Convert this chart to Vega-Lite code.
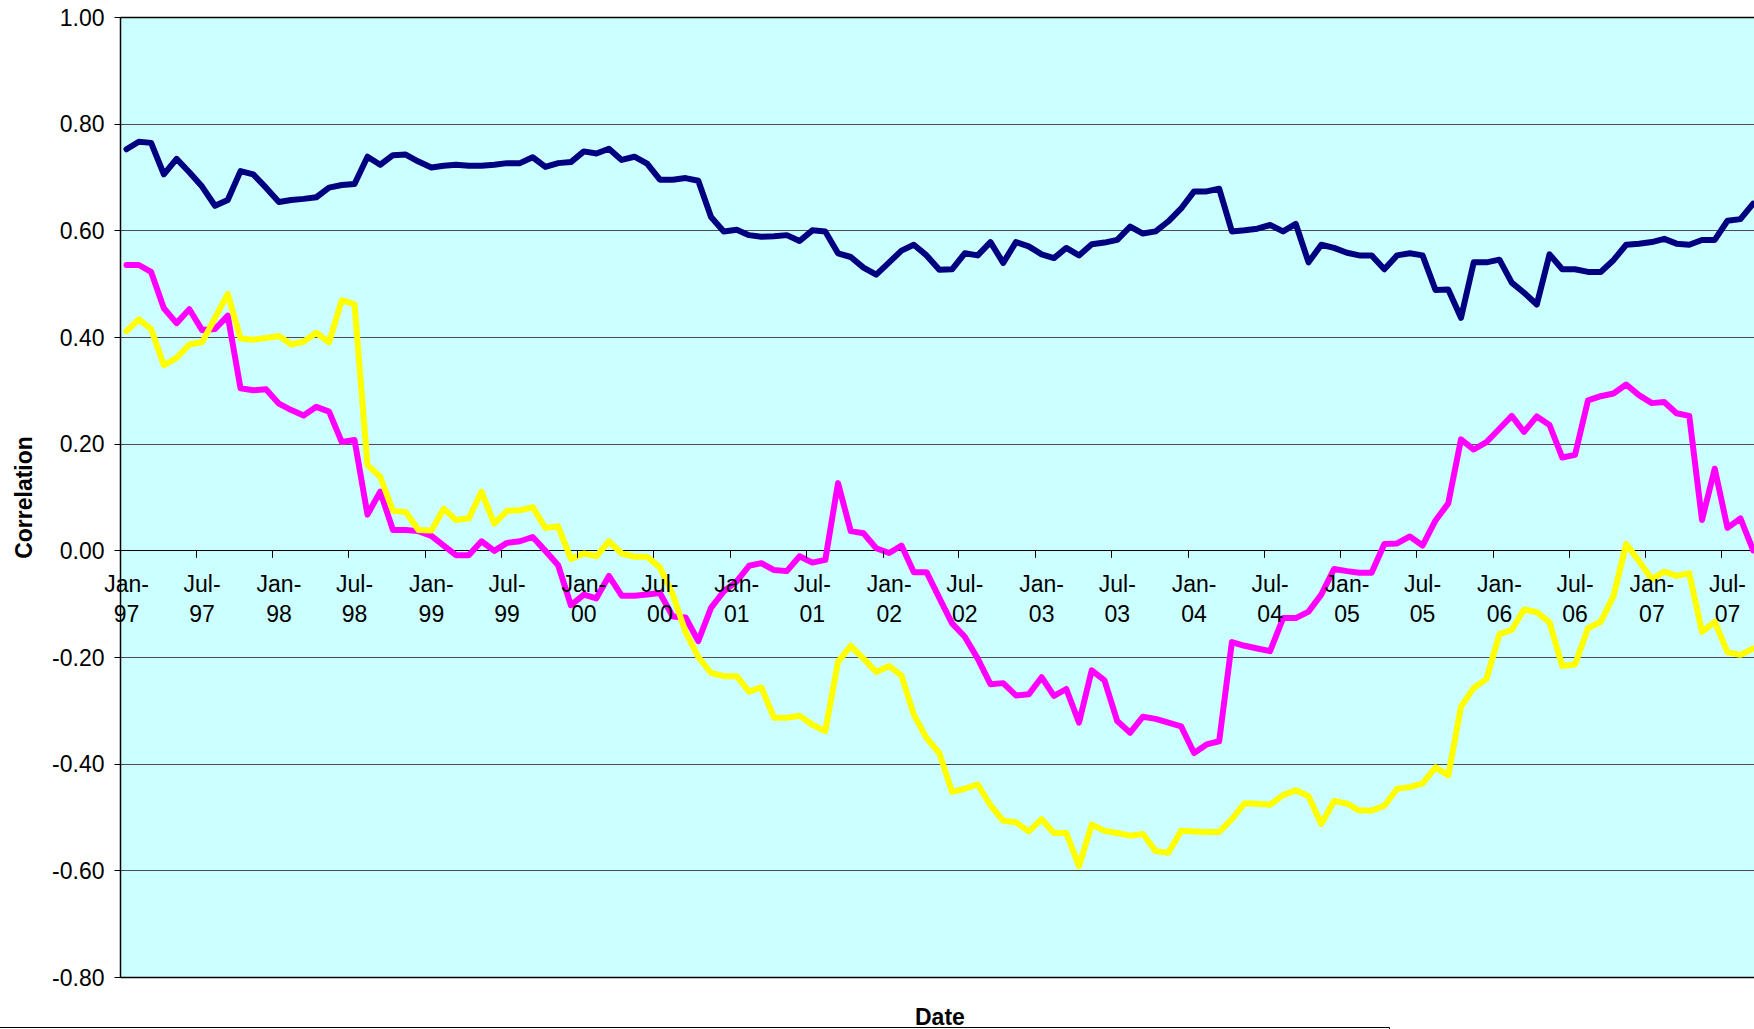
{
  "$schema": "https://vega.github.io/schema/vega-lite/v6.json",
  "width": 1634,
  "height": 960,
  "autosize": {"type": "none"},
  "padding": {"left": 120, "top": 17, "right": 0, "bottom": 52},
  "background": "white",
  "config": {
    "font": "Liberation Sans",
    "view": {"fill": "#CCFFFF", "stroke": null}
  },
  "data": {
    "values": [
      {"month": "1997-01", "series1": 0.752, "series2": 0.535, "series3": 0.411},
      {"month": "1997-02", "series1": 0.766, "series2": 0.535, "series3": 0.433},
      {"month": "1997-03", "series1": 0.764, "series2": 0.522, "series3": 0.415},
      {"month": "1997-04", "series1": 0.705, "series2": 0.454, "series3": 0.347},
      {"month": "1997-05", "series1": 0.734, "series2": 0.426, "series3": 0.361},
      {"month": "1997-06", "series1": 0.709, "series2": 0.452, "series3": 0.386},
      {"month": "1997-07", "series1": 0.682, "series2": 0.413, "series3": 0.390},
      {"month": "1997-08", "series1": 0.646, "series2": 0.415, "series3": 0.436},
      {"month": "1997-09", "series1": 0.657, "series2": 0.440, "series3": 0.481},
      {"month": "1997-10", "series1": 0.711, "series2": 0.304, "series3": 0.397},
      {"month": "1997-11", "series1": 0.705, "series2": 0.300, "series3": 0.395},
      {"month": "1997-12", "series1": 0.680, "series2": 0.302, "series3": 0.398},
      {"month": "1998-01", "series1": 0.653, "series2": 0.275, "series3": 0.402},
      {"month": "1998-02", "series1": 0.657, "series2": 0.263, "series3": 0.386},
      {"month": "1998-03", "series1": 0.659, "series2": 0.253, "series3": 0.391},
      {"month": "1998-04", "series1": 0.662, "series2": 0.269, "series3": 0.408},
      {"month": "1998-05", "series1": 0.680, "series2": 0.260, "series3": 0.390},
      {"month": "1998-06", "series1": 0.685, "series2": 0.203, "series3": 0.469},
      {"month": "1998-07", "series1": 0.687, "series2": 0.207, "series3": 0.461},
      {"month": "1998-08", "series1": 0.738, "series2": 0.067, "series3": 0.160},
      {"month": "1998-09", "series1": 0.723, "series2": 0.110, "series3": 0.138},
      {"month": "1998-10", "series1": 0.741, "series2": 0.038, "series3": 0.074},
      {"month": "1998-11", "series1": 0.742, "series2": 0.038, "series3": 0.072},
      {"month": "1998-12", "series1": 0.729, "series2": 0.036, "series3": 0.038},
      {"month": "1999-01", "series1": 0.718, "series2": 0.027, "series3": 0.037},
      {"month": "1999-02", "series1": 0.721, "series2": 0.009, "series3": 0.078},
      {"month": "1999-03", "series1": 0.723, "series2": -0.009, "series3": 0.057},
      {"month": "1999-04", "series1": 0.721, "series2": -0.009, "series3": 0.060},
      {"month": "1999-05", "series1": 0.721, "series2": 0.017, "series3": 0.110},
      {"month": "1999-06", "series1": 0.723, "series2": -0.001, "series3": 0.050},
      {"month": "1999-07", "series1": 0.726, "series2": 0.014, "series3": 0.074},
      {"month": "1999-08", "series1": 0.726, "series2": 0.017, "series3": 0.075},
      {"month": "1999-09", "series1": 0.737, "series2": 0.025, "series3": 0.081},
      {"month": "1999-10", "series1": 0.719, "series2": -0.001, "series3": 0.042},
      {"month": "1999-11", "series1": 0.726, "series2": -0.028, "series3": 0.045},
      {"month": "1999-12", "series1": 0.728, "series2": -0.103, "series3": -0.016},
      {"month": "2000-01", "series1": 0.748, "series2": -0.083, "series3": -0.006},
      {"month": "2000-02", "series1": 0.744, "series2": -0.090, "series3": -0.011},
      {"month": "2000-03", "series1": 0.753, "series2": -0.048, "series3": 0.017},
      {"month": "2000-04", "series1": 0.732, "series2": -0.085, "series3": -0.006},
      {"month": "2000-05", "series1": 0.738, "series2": -0.085, "series3": -0.012},
      {"month": "2000-06", "series1": 0.725, "series2": -0.083, "series3": -0.012},
      {"month": "2000-07", "series1": 0.695, "series2": -0.080, "series3": -0.032},
      {"month": "2000-08", "series1": 0.695, "series2": -0.124, "series3": -0.083},
      {"month": "2000-09", "series1": 0.698, "series2": -0.126, "series3": -0.153},
      {"month": "2000-10", "series1": 0.693, "series2": -0.170, "series3": -0.200},
      {"month": "2000-11", "series1": 0.625, "series2": -0.108, "series3": -0.230},
      {"month": "2000-12", "series1": 0.598, "series2": -0.077, "series3": -0.236},
      {"month": "2001-01", "series1": 0.601, "series2": -0.058, "series3": -0.236},
      {"month": "2001-02", "series1": 0.591, "series2": -0.029, "series3": -0.265},
      {"month": "2001-03", "series1": 0.588, "series2": -0.024, "series3": -0.257},
      {"month": "2001-04", "series1": 0.589, "series2": -0.037, "series3": -0.314},
      {"month": "2001-05", "series1": 0.591, "series2": -0.039, "series3": -0.314},
      {"month": "2001-06", "series1": 0.580, "series2": -0.011, "series3": -0.310},
      {"month": "2001-07", "series1": 0.600, "series2": -0.023, "series3": -0.327},
      {"month": "2001-08", "series1": 0.598, "series2": -0.018, "series3": -0.339},
      {"month": "2001-09", "series1": 0.557, "series2": 0.126, "series3": -0.209},
      {"month": "2001-10", "series1": 0.550, "series2": 0.036, "series3": -0.179},
      {"month": "2001-11", "series1": 0.530, "series2": 0.032, "series3": -0.203},
      {"month": "2001-12", "series1": 0.517, "series2": 0.004, "series3": -0.228},
      {"month": "2002-01", "series1": 0.540, "series2": -0.005, "series3": -0.217},
      {"month": "2002-02", "series1": 0.562, "series2": 0.009, "series3": -0.235},
      {"month": "2002-03", "series1": 0.573, "series2": -0.041, "series3": -0.308},
      {"month": "2002-04", "series1": 0.553, "series2": -0.041, "series3": -0.352},
      {"month": "2002-05", "series1": 0.526, "series2": -0.089, "series3": -0.380},
      {"month": "2002-06", "series1": 0.527, "series2": -0.137, "series3": -0.453},
      {"month": "2002-07", "series1": 0.557, "series2": -0.162, "series3": -0.447},
      {"month": "2002-08", "series1": 0.553, "series2": -0.203, "series3": -0.439},
      {"month": "2002-09", "series1": 0.578, "series2": -0.251, "series3": -0.478},
      {"month": "2002-10", "series1": 0.539, "series2": -0.249, "series3": -0.507},
      {"month": "2002-11", "series1": 0.578, "series2": -0.272, "series3": -0.510},
      {"month": "2002-12", "series1": 0.570, "series2": -0.270, "series3": -0.527},
      {"month": "2003-01", "series1": 0.555, "series2": -0.238, "series3": -0.504},
      {"month": "2003-02", "series1": 0.548, "series2": -0.273, "series3": -0.530},
      {"month": "2003-03", "series1": 0.567, "series2": -0.260, "series3": -0.530},
      {"month": "2003-04", "series1": 0.553, "series2": -0.323, "series3": -0.592},
      {"month": "2003-05", "series1": 0.574, "series2": -0.225, "series3": -0.514},
      {"month": "2003-06", "series1": 0.577, "series2": -0.244, "series3": -0.526},
      {"month": "2003-07", "series1": 0.582, "series2": -0.320, "series3": -0.530},
      {"month": "2003-08", "series1": 0.607, "series2": -0.342, "series3": -0.535},
      {"month": "2003-09", "series1": 0.594, "series2": -0.312, "series3": -0.532},
      {"month": "2003-10", "series1": 0.598, "series2": -0.316, "series3": -0.564},
      {"month": "2003-11", "series1": 0.617, "series2": -0.323, "series3": -0.567},
      {"month": "2003-12", "series1": 0.641, "series2": -0.330, "series3": -0.526},
      {"month": "2004-01", "series1": 0.673, "series2": -0.380, "series3": -0.527},
      {"month": "2004-02", "series1": 0.673, "series2": -0.364, "series3": -0.528},
      {"month": "2004-03", "series1": 0.678, "series2": -0.358, "series3": -0.528},
      {"month": "2004-04", "series1": 0.598, "series2": -0.172, "series3": -0.504},
      {"month": "2004-05", "series1": 0.600, "series2": -0.179, "series3": -0.474},
      {"month": "2004-06", "series1": 0.603, "series2": -0.184, "series3": -0.475},
      {"month": "2004-07", "series1": 0.610, "series2": -0.189, "series3": -0.477},
      {"month": "2004-08", "series1": 0.598, "series2": -0.127, "series3": -0.459},
      {"month": "2004-09", "series1": 0.612, "series2": -0.127, "series3": -0.450},
      {"month": "2004-10", "series1": 0.540, "series2": -0.115, "series3": -0.461},
      {"month": "2004-11", "series1": 0.573, "series2": -0.083, "series3": -0.513},
      {"month": "2004-12", "series1": 0.567, "series2": -0.035, "series3": -0.470},
      {"month": "2005-01", "series1": 0.558, "series2": -0.039, "series3": -0.475},
      {"month": "2005-02", "series1": 0.553, "series2": -0.042, "series3": -0.488},
      {"month": "2005-03", "series1": 0.553, "series2": -0.042, "series3": -0.488},
      {"month": "2005-04", "series1": 0.527, "series2": 0.012, "series3": -0.479},
      {"month": "2005-05", "series1": 0.553, "series2": 0.013, "series3": -0.447},
      {"month": "2005-06", "series1": 0.557, "series2": 0.026, "series3": -0.444},
      {"month": "2005-07", "series1": 0.553, "series2": 0.009, "series3": -0.437},
      {"month": "2005-08", "series1": 0.488, "series2": 0.056, "series3": -0.407},
      {"month": "2005-09", "series1": 0.489, "series2": 0.088, "series3": -0.422},
      {"month": "2005-10", "series1": 0.436, "series2": 0.208, "series3": -0.293},
      {"month": "2005-11", "series1": 0.540, "series2": 0.189, "series3": -0.258},
      {"month": "2005-12", "series1": 0.540, "series2": 0.203, "series3": -0.241},
      {"month": "2006-01", "series1": 0.545, "series2": 0.228, "series3": -0.157},
      {"month": "2006-02", "series1": 0.502, "series2": 0.252, "series3": -0.149},
      {"month": "2006-03", "series1": 0.483, "series2": 0.222, "series3": -0.111},
      {"month": "2006-04", "series1": 0.461, "series2": 0.251, "series3": -0.116},
      {"month": "2006-05", "series1": 0.555, "series2": 0.235, "series3": -0.135},
      {"month": "2006-06", "series1": 0.527, "series2": 0.174, "series3": -0.217},
      {"month": "2006-07", "series1": 0.527, "series2": 0.179, "series3": -0.214},
      {"month": "2006-08", "series1": 0.522, "series2": 0.281, "series3": -0.146},
      {"month": "2006-09", "series1": 0.522, "series2": 0.289, "series3": -0.134},
      {"month": "2006-10", "series1": 0.544, "series2": 0.294, "series3": -0.086},
      {"month": "2006-11", "series1": 0.573, "series2": 0.311, "series3": 0.012},
      {"month": "2006-12", "series1": 0.575, "series2": 0.291, "series3": -0.020},
      {"month": "2007-01", "series1": 0.578, "series2": 0.276, "series3": -0.054},
      {"month": "2007-02", "series1": 0.584, "series2": 0.278, "series3": -0.040},
      {"month": "2007-03", "series1": 0.575, "series2": 0.257, "series3": -0.048},
      {"month": "2007-04", "series1": 0.573, "series2": 0.252, "series3": -0.043},
      {"month": "2007-05", "series1": 0.582, "series2": 0.057, "series3": -0.153},
      {"month": "2007-06", "series1": 0.582, "series2": 0.153, "series3": -0.134},
      {"month": "2007-07", "series1": 0.618, "series2": 0.042, "series3": -0.191},
      {"month": "2007-08", "series1": 0.621, "series2": 0.060, "series3": -0.196},
      {"month": "2007-09", "series1": 0.650, "series2": 0.000, "series3": -0.184}
    ]
  },
  "transform": [
    {"fold": ["series1", "series2", "series3"], "as": ["series", "value"]}
  ],
  "mark": {"type": "line", "strokeWidth": 6, "strokeJoin": "round", "strokeCap": "round"},
  "encoding": {
    "x": {
      "field": "month",
      "type": "temporal",
      "timeUnit": "utcyearmonth",
      "bandPosition": 0.5,
      "scale": {
        "type": "utc",
        "nice": false,
        "domain": [
          {"year": 1997, "month": 1, "date": 1, "utc": true},
          {"year": 2007, "month": 9, "date": 18, "utc": true}
        ]
      },
      "axis": {
        "title": "Date",
        "titleFontSize": 23,
        "titleFontWeight": "bold",
        "titleColor": "black",
        "titleX": 819.4,
        "titleY": 474.3,
        "titleAlign": "center",
        "titleBaseline": "alphabetic",
        "offset": -426.67,
        "tickCount": {"interval": "month", "step": 6},
        "labelExpr": "[utcFormat(datum.value, '%b') + '-', utcFormat(datum.value, '%y')]",
        "labelFontSize": 23,
        "labelColor": "black",
        "labelLineHeight": 29.7,
        "labelPadding": 16,
        "labelOffset": 6,
        "labelFlush": false,
        "labelOverlap": false,
        "labelBound": false,
        "tickSize": 7,
        "tickColor": "black",
        "domain": false,
        "grid": false,
        "zindex": 1
      }
    },
    "y": {
      "field": "value",
      "type": "quantitative",
      "scale": {"domain": [-0.8, 1.0], "nice": false, "zero": false},
      "axis": {
        "title": "Correlation",
        "titleFontSize": 23,
        "titleFontWeight": "bold",
        "titleColor": "black",
        "titleAngle": 270,
        "titleX": -88.6,
        "titleY": 480,
        "titleAlign": "center",
        "titleBaseline": "alphabetic",
        "values": [-0.8, -0.6, -0.4, -0.2, 0, 0.2, 0.4, 0.6, 0.8, 1.0],
        "labelExpr": "(datum.value < 0 ? '-' : '') + format(abs(datum.value), '.2f')",
        "labelFontSize": 23,
        "labelColor": "black",
        "labelPadding": 10,
        "labelOffset": 1,
        "tickSize": 6,
        "tickColor": "black",
        "domainColor": "black",
        "domainWidth": 1.5,
        "grid": true,
        "gridColor": {"condition": {"test": "datum.value === 1 || datum.value === 0 || datum.value === -0.8", "value": "#000000"}, "value": "#4d4d4d"},
        "gridWidth": {"condition": {"test": "datum.value === 1 || datum.value === -0.8", "value": 1.6}, "value": 1},
        "gridOpacity": 1
      }
    },
    "color": {
      "field": "series",
      "type": "nominal",
      "scale": {"domain": ["series1", "series2", "series3"], "range": ["#000080", "#FF00FF", "#FFFF00"]},
      "legend": {
        "orient": "none",
        "legendX": -130,
        "legendY": 1010,
        "direction": "horizontal",
        "title": null,
        "strokeColor": "black",
        "padding": 10,
        "gridAlign": "all",
        "columnPadding": 647,
        "labelExpr": "''",
        "symbolType": "stroke",
        "symbolStrokeWidth": 5
      }
    }
  }
}
